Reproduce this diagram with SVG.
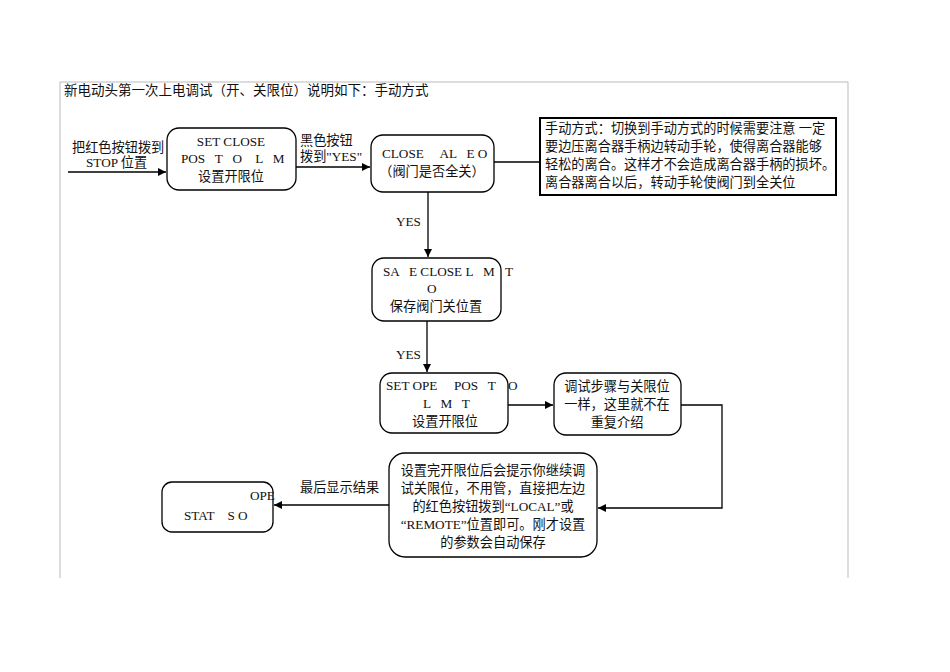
<svg xmlns="http://www.w3.org/2000/svg" width="950" height="672" viewBox="0 0 950 672">
<defs>
<marker id="a" markerWidth="8" markerHeight="8" refX="8" refY="4" orient="auto" markerUnits="userSpaceOnUse"><path d="M0,0 L8,4 L0,8 z" fill="#000"/></marker>
<style>
text{font-family:"Liberation Serif","Noto Sans CJK SC",serif;font-size:13.2px;fill:#111}
.c{text-anchor:middle}
.n{fill:#fff;stroke:#000;stroke-width:1.3}
.l{fill:none;stroke:#000;stroke-width:1.3}
</style>
</defs>
<rect width="950" height="672" fill="#fff"/>
<path d="M60,82 H848 M60,82 V578 M848,82 V578" fill="none" stroke="#bbb" stroke-width="1"/>
<text x="64" y="95" style="font-size:13.5px">新电动头第一次上电调试（开、关限位）说明如下：手动方式</text>
<g id="connectors">
<path class="l" d="M68,172 H166" marker-end="url(#a)"/>
<path class="l" d="M296,167 H370" marker-end="url(#a)"/>
<path class="l" d="M494,162 H540"/>
<path class="l" d="M428,192 V257" marker-end="url(#a)"/>
<path class="l" d="M427,321 V372" marker-end="url(#a)"/>
<path class="l" d="M508,405 H553" marker-end="url(#a)"/>
<path class="l" d="M681,405 H722 V508 H598" marker-end="url(#a)"/>
<path class="l" d="M389,505 H274" marker-end="url(#a)"/>
<text x="72" y="152">把红色按钮拨到</text>
<text x="86" y="167">STOP 位置</text>
<text x="300" y="145">黑色按钮</text>
<text x="300" y="161">拨到"YES"</text>
<text x="396" y="226">YES</text>
<text x="396" y="359">YES</text>
<text x="300" y="492">最后显示结果</text>
</g>
<g id="n1"><rect class="n" x="167" y="128" width="129" height="62" rx="12"/>
<text class="c" x="231" y="146">SET CLOSE</text><text x="181" y="163" xml:space="preserve">POS   T   O    L   M</text><text class="c" x="231" y="181">设置开限位</text></g>
<g id="n2"><rect class="n" x="371" y="135" width="123" height="57" rx="12"/>
<text x="382" y="158" xml:space="preserve">CLOSE     AL   E O</text><text class="c" x="432" y="176">（阀门是否全关）</text></g>
<g id="note"><rect x="540" y="118" width="296" height="77" fill="#fff" stroke="#000" stroke-width="2"/>
<text x="545" y="133">手动方式：切换到手动方式的时候需要注意 一定</text>
<text x="545" y="151">要边压离合器手柄边转动手轮，使得离合器能够</text>
<text x="545" y="169">轻松的离合。这样才不会造成离合器手柄的损坏。</text>
<text x="545" y="187">离合器离合以后，转动手轮使阀门到全关位</text></g>
<g id="n3"><rect class="n" x="372" y="258" width="129" height="63" rx="12"/>
<text x="383" y="276" xml:space="preserve">SA   E CLOSE L   M</text><text x="505" y="276">T</text><text x="427" y="293">O</text><text class="c" x="436" y="311">保存阀门关位置</text></g>
<g id="n4"><rect class="n" x="380" y="373" width="128" height="60" rx="12"/>
<text x="386" y="390" xml:space="preserve">SET OPE     POS   T</text><text x="508" y="390">O</text><text x="423" y="408" xml:space="preserve">L   M   T</text><text class="c" x="445" y="426">设置开限位</text></g>
<g id="n5"><rect class="n" x="554" y="373" width="127" height="62" rx="12"/>
<text class="c" x="617" y="391">调试步骤与关限位</text><text class="c" x="617" y="409">一样，这里就不在</text><text class="c" x="617" y="427">重复介绍</text></g>
<g id="n6"><rect class="n" x="389" y="453" width="208" height="104" rx="16"/>
<text class="c" x="493" y="475">设置完开限位后会提示你继续调</text><text class="c" x="493" y="493">试关限位，不用管，直接把左边</text><text class="c" x="493" y="511">的红色按钮拨到“LOCAL”或</text><text class="c" x="493" y="529">“REMOTE”位置即可。刚才设置</text><text class="c" x="493" y="547">的参数会自动保存</text></g>
<g id="n7"><rect class="n" x="162" y="482" width="111" height="50" rx="10"/>
<text x="250" y="500">OPE</text><text x="184" y="520" xml:space="preserve">STAT    S O</text></g>
</svg>
